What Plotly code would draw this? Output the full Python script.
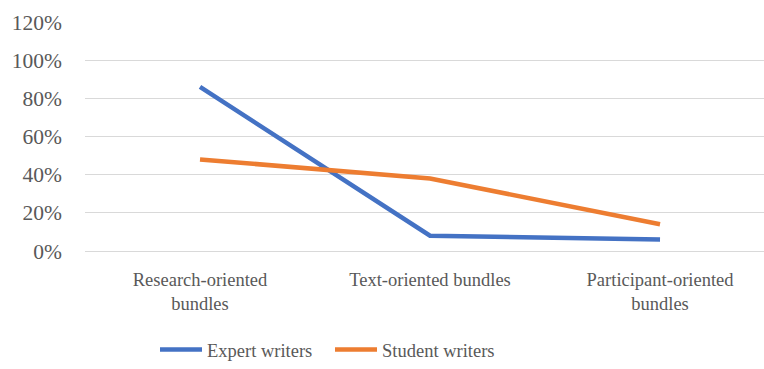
import plotly.graph_objects as go

categories = ["Research-oriented<br>bundles", "Text-oriented bundles", "Participant-oriented<br>bundles"]
expert = [0.86, 0.08, 0.06]
student = [0.48, 0.38, 0.14]
y_ticks = [0, 0.2, 0.4, 0.6, 0.8, 1.0, 1.2]
y_labels = ["0%", "20%", "40%", "60%", "80%", "100%", "120%"]

font_family = "Liberation Serif"
text_color = "#595959"
fs = 18.5

fig = go.Figure()
fig.add_trace(go.Scatter(x=[0, 1, 2], y=expert, mode="lines", name="Expert writers",
                         line=dict(color="#4472C4", width=4.5)))
fig.add_trace(go.Scatter(x=[0, 1, 2], y=student, mode="lines", name="Student writers",
                         line=dict(color="#ED7D31", width=4.5)))

fig.update_layout(
    width=764, height=369,
    margin=dict(l=85, r=0, t=22, b=118),
    paper_bgcolor="white", plot_bgcolor="white",
    font=dict(family=font_family, size=fs, color=text_color),
    showlegend=True,
    legend=dict(orientation="h", xref="container", yref="container",
                x=155 / 764, xanchor="left", y=0.0, yanchor="bottom",
                font=dict(family=font_family, size=fs, color=text_color),
                itemwidth=42, traceorder="normal",
                entrywidth=118, entrywidthmode="pixels"),
)
fig.update_xaxes(
    tickmode="array", tickvals=[0, 1, 2], ticktext=categories,
    range=[-0.5, 2.452], showgrid=False, zeroline=False,
    showline=False, ticks="", ticklabelstandoff=15, tickangle=0,
    tickfont=dict(family=font_family, size=fs, color=text_color),
)
fig.update_yaxes(
    range=[0, 1.2], tickmode="array", tickvals=y_ticks, ticktext=y_labels,
    showgrid=True, gridcolor="#D9D9D9", gridwidth=1, zeroline=True,
    zerolinecolor="#D9D9D9", zerolinewidth=1, showline=False, ticks="",
    tickfont=dict(family=font_family, size=21.5, color=text_color), ticklabelstandoff=22,
)

fig.write_html("out.html")
